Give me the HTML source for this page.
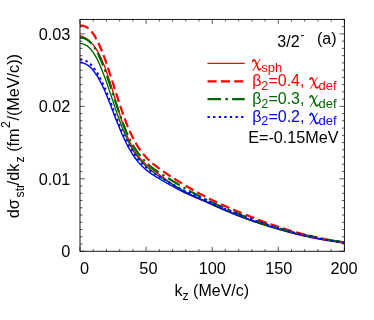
<!DOCTYPE html>
<html><head><meta charset="utf-8"><title>plot</title>
<style>html,body{margin:0;padding:0;background:#fff;width:374px;height:320px;overflow:hidden}</style></head>
<body>
<svg width="374" height="320" viewBox="0 0 374 320" style="position:absolute;left:0;top:0;will-change:transform">
<rect width="374" height="320" fill="#fff"/>
<clipPath id="c"><rect x="80.0" y="19.4" width="264.40" height="231.85"/></clipPath>
<g clip-path="url(#c)" fill="none" stroke-linejoin="round">
<path d="M80.1,35.8 L81.4,36.2 L82.7,36.7 L84.1,37.4 L85.4,38.1 L86.7,38.9 L88.0,39.9 L89.3,41.0 L90.7,42.2 L92.0,43.6 L93.3,45.1 L94.6,46.8 L95.9,48.7 L97.3,50.9 L98.6,53.2 L99.9,55.7 L101.2,58.5 L102.5,61.5 L103.9,64.7 L105.2,68.1 L106.5,71.7 L107.8,75.5 L109.1,79.5 L110.5,83.6 L111.8,87.9 L113.1,92.2 L114.4,96.7 L115.7,101.1 L117.1,105.5 L118.4,109.9 L119.7,114.3 L121.0,118.5 L122.3,122.5 L123.7,126.5 L125.0,130.2 L126.3,133.7 L127.6,137.1 L128.9,140.2 L130.3,143.1 L131.6,145.7 L132.9,148.2 L134.2,150.5 L135.6,152.6 L136.9,154.5 L138.2,156.2 L139.5,157.8 L140.8,159.3 L142.2,160.7 L143.5,162.0 L144.8,163.3 L146.1,164.5 L147.4,165.6 L148.8,166.7 L150.1,167.7 L151.4,168.8 L152.7,169.8 L154.0,170.8 L155.4,171.8 L156.7,172.8 L158.0,173.8 L159.3,174.7 L160.6,175.7 L162.0,176.7 L163.3,177.6 L164.6,178.6 L165.9,179.6 L167.2,180.5 L168.6,181.5 L169.9,182.4 L171.2,183.4 L172.5,184.3 L173.8,185.2 L175.2,186.2 L176.5,187.1 L177.8,188.0 L179.1,188.8 L180.4,189.7 L181.8,190.6 L183.1,191.4 L184.4,192.1 L185.7,192.9 L187.0,193.6 L188.4,194.2 L189.7,194.9 L191.0,195.5 L192.3,196.1 L193.6,196.7 L195.0,197.3 L196.3,197.8 L197.6,198.4 L198.9,198.9 L200.2,199.5 L201.6,200.0 L202.9,200.5 L204.2,201.1 L205.5,201.6 L206.8,202.2 L208.2,202.8 L209.5,203.4 L210.8,204.0 L212.1,204.6 L213.4,205.2 L214.8,205.8 L216.1,206.4 L217.4,207.0 L218.7,207.6 L220.0,208.2 L221.4,208.8 L222.7,209.3 L224.0,209.9 L225.3,210.5 L226.6,211.0 L228.0,211.6 L229.3,212.1 L230.6,212.7 L231.9,213.2 L233.2,213.7 L234.6,214.3 L235.9,214.8 L237.2,215.3 L238.5,215.8 L239.9,216.3 L241.2,216.8 L242.5,217.3 L243.8,217.8 L245.1,218.3 L246.5,218.8 L247.8,219.2 L249.1,219.7 L250.4,220.2 L251.7,220.6 L253.1,221.1 L254.4,221.5 L255.7,222.0 L257.0,222.4 L258.3,222.9 L259.7,223.3 L261.0,223.7 L262.3,224.2 L263.6,224.6 L264.9,225.0 L266.3,225.4 L267.6,225.8 L268.9,226.2 L270.2,226.6 L271.5,227.0 L272.9,227.4 L274.2,227.9 L275.5,228.3 L276.8,228.7 L278.1,229.1 L279.5,229.5 L280.8,229.9 L282.1,230.2 L283.4,230.6 L284.7,231.0 L286.1,231.4 L287.4,231.8 L288.7,232.1 L290.0,232.5 L291.3,232.8 L292.7,233.2 L294.0,233.5 L295.3,233.8 L296.6,234.2 L297.9,234.5 L299.3,234.8 L300.6,235.1 L301.9,235.5 L303.2,235.8 L304.5,236.1 L305.9,236.4 L307.2,236.7 L308.5,237.0 L309.8,237.3 L311.1,237.5 L312.5,237.8 L313.8,238.1 L315.1,238.3 L316.4,238.6 L317.7,238.8 L319.1,239.1 L320.4,239.3 L321.7,239.6 L323.0,239.8 L324.3,240.0 L325.7,240.3 L327.0,240.5 L328.3,240.7 L329.6,240.9 L330.9,241.1 L332.3,241.3 L333.6,241.5 L334.9,241.7 L336.2,241.9 L337.5,242.1 L338.9,242.3 L340.2,242.5 L341.5,242.7 L342.8,242.9 L344.1,243.0" stroke="#ff0000" stroke-width="1.35"/>
<path d="M80.1,43.4 L81.4,43.6 L82.7,43.8 L84.1,44.3 L85.4,44.9 L86.7,45.6 L88.0,46.6 L89.3,47.8 L90.7,49.2 L92.0,50.8 L93.3,52.6 L94.6,54.7 L95.9,56.9 L97.3,59.4 L98.6,62.1 L99.9,65.1 L101.2,68.2 L102.5,71.4 L103.9,74.9 L105.2,78.4 L106.5,82.1 L107.8,85.9 L109.1,89.8 L110.5,93.7 L111.8,97.7 L113.1,101.7 L114.4,105.6 L115.7,109.5 L117.1,113.4 L118.4,117.2 L119.7,120.8 L121.0,124.4 L122.3,127.8 L123.7,131.1 L125.0,134.3 L126.3,137.3 L127.6,140.1 L128.9,142.8 L130.3,145.4 L131.6,147.7 L132.9,150.0 L134.2,152.1 L135.6,154.0 L136.9,155.8 L138.2,157.5 L139.5,159.1 L140.8,160.7 L142.2,162.1 L143.5,163.5 L144.8,164.9 L146.1,166.2 L147.4,167.4 L148.8,168.6 L150.1,169.8 L151.4,170.8 L152.7,171.8 L154.0,172.8 L155.4,173.7 L156.7,174.6 L158.0,175.5 L159.3,176.4 L160.6,177.2 L162.0,178.1 L163.3,178.9 L164.6,179.7 L165.9,180.5 L167.2,181.3 L168.6,182.0 L169.9,182.8 L171.2,183.6 L172.5,184.4 L173.8,185.1 L175.2,185.9 L176.5,186.6 L177.8,187.4 L179.1,188.1 L180.4,188.9 L181.8,189.6 L183.1,190.3 L184.4,191.0 L185.7,191.8 L187.0,192.5 L188.4,193.2 L189.7,193.9 L191.0,194.6 L192.3,195.3 L193.6,195.9 L195.0,196.6 L196.3,197.2 L197.6,197.9 L198.9,198.5 L200.2,199.1 L201.6,199.8 L202.9,200.4 L204.2,201.0 L205.5,201.6 L206.8,202.2 L208.2,202.8 L209.5,203.4 L210.8,204.1 L212.1,204.7 L213.4,205.3 L214.8,205.9 L216.1,206.5 L217.4,207.1 L218.7,207.6 L220.0,208.2 L221.4,208.8 L222.7,209.4 L224.0,209.9 L225.3,210.5 L226.6,211.1 L228.0,211.6 L229.3,212.2 L230.6,212.7 L231.9,213.2 L233.2,213.8 L234.6,214.3 L235.9,214.8 L237.2,215.4 L238.5,215.9 L239.9,216.4 L241.2,216.9 L242.5,217.4 L243.8,217.9 L245.1,218.4 L246.5,218.9 L247.8,219.4 L249.1,219.9 L250.4,220.4 L251.7,220.8 L253.1,221.3 L254.4,221.8 L255.7,222.2 L257.0,222.7 L258.3,223.1 L259.7,223.5 L261.0,224.0 L262.3,224.4 L263.6,224.8 L264.9,225.2 L266.3,225.6 L267.6,226.1 L268.9,226.5 L270.2,226.8 L271.5,227.2 L272.9,227.6 L274.2,228.0 L275.5,228.4 L276.8,228.8 L278.1,229.1 L279.5,229.5 L280.8,229.8 L282.1,230.2 L283.4,230.5 L284.7,230.9 L286.1,231.2 L287.4,231.6 L288.7,231.9 L290.0,232.2 L291.3,232.5 L292.7,232.8 L294.0,233.2 L295.3,233.5 L296.6,233.8 L297.9,234.1 L299.3,234.4 L300.6,234.7 L301.9,234.9 L303.2,235.2 L304.5,235.5 L305.9,235.8 L307.2,236.0 L308.5,236.3 L309.8,236.6 L311.1,236.8 L312.5,237.1 L313.8,237.3 L315.1,237.6 L316.4,237.8 L317.7,238.1 L319.1,238.3 L320.4,238.5 L321.7,238.8 L323.0,239.0 L324.3,239.2 L325.7,239.4 L327.0,239.6 L328.3,239.9 L329.6,240.1 L330.9,240.3 L332.3,240.5 L333.6,240.7 L334.9,240.9 L336.2,241.1 L337.5,241.2 L338.9,241.4 L340.2,241.6 L341.5,241.8 L342.8,242.0 L344.1,242.2" stroke="#006600" stroke-width="1.35"/>
<path d="M80.1,62.3 L81.4,62.5 L82.7,62.8 L84.1,63.3 L85.4,63.8 L86.7,64.5 L88.0,65.3 L89.3,66.4 L90.7,67.5 L92.0,68.9 L93.3,70.5 L94.6,72.3 L95.9,74.1 L97.3,76.2 L98.6,78.4 L99.9,80.8 L101.2,83.3 L102.5,86.0 L103.9,88.8 L105.2,91.8 L106.5,94.9 L107.8,98.2 L109.1,101.5 L110.5,104.9 L111.8,108.4 L113.1,111.8 L114.4,115.3 L115.7,118.7 L117.1,122.0 L118.4,125.3 L119.7,128.6 L121.0,131.7 L122.3,134.7 L123.7,137.7 L125.0,140.5 L126.3,143.2 L127.6,145.8 L128.9,148.2 L130.3,150.5 L131.6,152.7 L132.9,154.8 L134.2,156.7 L135.6,158.5 L136.9,160.2 L138.2,161.9 L139.5,163.4 L140.8,164.8 L142.2,166.2 L143.5,167.5 L144.8,168.7 L146.1,169.9 L147.4,170.9 L148.8,172.0 L150.1,172.9 L151.4,173.8 L152.7,174.7 L154.0,175.5 L155.4,176.4 L156.7,177.2 L158.0,178.0 L159.3,178.7 L160.6,179.5 L162.0,180.3 L163.3,181.0 L164.6,181.8 L165.9,182.5 L167.2,183.3 L168.6,184.0 L169.9,184.8 L171.2,185.5 L172.5,186.2 L173.8,187.0 L175.2,187.7 L176.5,188.4 L177.8,189.1 L179.1,189.8 L180.4,190.5 L181.8,191.2 L183.1,191.9 L184.4,192.5 L185.7,193.1 L187.0,193.7 L188.4,194.2 L189.7,194.8 L191.0,195.3 L192.3,195.9 L193.6,196.4 L195.0,197.0 L196.3,197.5 L197.6,198.1 L198.9,198.6 L200.2,199.1 L201.6,199.6 L202.9,200.1 L204.2,200.7 L205.5,201.2 L206.8,201.8 L208.2,202.4 L209.5,203.0 L210.8,203.6 L212.1,204.3 L213.4,204.9 L214.8,205.5 L216.1,206.1 L217.4,206.7 L218.7,207.2 L220.0,207.8 L221.4,208.4 L222.7,209.0 L224.0,209.5 L225.3,210.1 L226.6,210.7 L228.0,211.2 L229.3,211.8 L230.6,212.3 L231.9,212.8 L233.2,213.4 L234.6,213.9 L235.9,214.4 L237.2,214.9 L238.5,215.5 L239.9,216.0 L241.2,216.5 L242.5,217.0 L243.8,217.4 L245.1,217.9 L246.5,218.4 L247.8,218.9 L249.1,219.4 L250.4,219.8 L251.7,220.3 L253.1,220.7 L254.4,221.2 L255.7,221.6 L257.0,222.1 L258.3,222.5 L259.7,223.0 L261.0,223.4 L262.3,223.8 L263.6,224.2 L264.9,224.6 L266.3,225.0 L267.6,225.5 L268.9,225.9 L270.2,226.3 L271.5,226.7 L272.9,227.1 L274.2,227.5 L275.5,227.9 L276.8,228.3 L278.1,228.7 L279.5,229.1 L280.8,229.5 L282.1,229.9 L283.4,230.3 L284.7,230.7 L286.1,231.0 L287.4,231.4 L288.7,231.8 L290.0,232.1 L291.3,232.5 L292.7,232.8 L294.0,233.2 L295.3,233.5 L296.6,233.8 L297.9,234.2 L299.3,234.5 L300.6,234.8 L301.9,235.1 L303.2,235.4 L304.5,235.7 L305.9,236.0 L307.2,236.3 L308.5,236.6 L309.8,236.9 L311.1,237.2 L312.5,237.5 L313.8,237.7 L315.1,238.0 L316.4,238.2 L317.7,238.5 L319.1,238.7 L320.4,239.0 L321.7,239.2 L323.0,239.5 L324.3,239.7 L325.7,239.9 L327.0,240.1 L328.3,240.3 L329.6,240.6 L330.9,240.8 L332.3,241.0 L333.6,241.2 L334.9,241.4 L336.2,241.6 L337.5,241.8 L338.9,242.0 L340.2,242.1 L341.5,242.3 L342.8,242.5 L344.1,242.7" stroke="#0000ff" stroke-width="1.4"/>
<path d="M80.1,25.4 L81.4,25.5 L82.7,25.7 L84.1,26.0 L85.4,26.5 L86.7,27.2 L88.0,28.1 L89.3,29.2 L90.7,30.6 L92.0,32.1 L93.3,33.9 L94.6,35.9 L95.9,38.2 L97.3,40.6 L98.6,43.3 L99.9,46.2 L101.2,49.3 L102.5,52.6 L103.9,56.1 L105.2,59.7 L106.5,63.5 L107.8,67.4 L109.1,71.4 L110.5,75.5 L111.8,79.6 L113.1,83.7 L114.4,87.9 L115.7,92.1 L117.1,96.2 L118.4,100.3 L119.7,104.3 L121.0,108.2 L122.3,112.1 L123.7,115.8 L125.0,119.4 L126.3,122.8 L127.6,126.1 L128.9,129.3 L130.3,132.3 L131.6,135.1 L132.9,137.8 L134.2,140.3 L135.6,142.7 L136.9,145.0 L138.2,147.1 L139.5,149.1 L140.8,150.9 L142.2,152.7 L143.5,154.3 L144.8,155.8 L146.1,157.3 L147.4,158.7 L148.8,160.0 L150.1,161.2 L151.4,162.4 L152.7,163.6 L154.0,164.6 L155.4,165.7 L156.7,166.7 L158.0,167.7 L159.3,168.7 L160.6,169.6 L162.0,170.5 L163.3,171.4 L164.6,172.3 L165.9,173.2 L167.2,174.1 L168.6,175.0 L169.9,175.9 L171.2,176.7 L172.5,177.6 L173.8,178.4 L175.2,179.3 L176.5,180.1 L177.8,180.9 L179.1,181.7 L180.4,182.5 L181.8,183.3 L183.1,184.1 L184.4,184.9 L185.7,185.7 L187.0,186.5 L188.4,187.3 L189.7,188.0 L191.0,188.8 L192.3,189.5 L193.6,190.3 L195.0,191.0 L196.3,191.7 L197.6,192.4 L198.9,193.2 L200.2,193.9 L201.6,194.6 L202.9,195.3 L204.2,196.0 L205.5,196.7 L206.8,197.3 L208.2,198.0 L209.5,198.7 L210.8,199.4 L212.1,200.0 L213.4,200.7 L214.8,201.3 L216.1,202.0 L217.4,202.6 L218.7,203.2 L220.0,203.8 L221.4,204.4 L222.7,205.0 L224.0,205.6 L225.3,206.1 L226.6,206.7 L228.0,207.3 L229.3,207.9 L230.6,208.4 L231.9,209.0 L233.2,209.6 L234.6,210.1 L235.9,210.7 L237.2,211.2 L238.5,211.8 L239.9,212.3 L241.2,212.9 L242.5,213.4 L243.8,213.9 L245.1,214.5 L246.5,215.0 L247.8,215.5 L249.1,216.0 L250.4,216.6 L251.7,217.1 L253.1,217.6 L254.4,218.1 L255.7,218.7 L257.0,219.2 L258.3,219.7 L259.7,220.2 L261.0,220.7 L262.3,221.2 L263.6,221.7 L264.9,222.1 L266.3,222.6 L267.6,223.1 L268.9,223.5 L270.2,224.0 L271.5,224.5 L272.9,224.9 L274.2,225.4 L275.5,225.8 L276.8,226.3 L278.1,226.7 L279.5,227.1 L280.8,227.6 L282.1,228.0 L283.4,228.4 L284.7,228.8 L286.1,229.2 L287.4,229.7 L288.7,230.1 L290.0,230.5 L291.3,230.9 L292.7,231.2 L294.0,231.6 L295.3,232.0 L296.6,232.4 L297.9,232.7 L299.3,233.1 L300.6,233.5 L301.9,233.8 L303.2,234.1 L304.5,234.5 L305.9,234.8 L307.2,235.1 L308.5,235.5 L309.8,235.8 L311.1,236.1 L312.5,236.4 L313.8,236.7 L315.1,237.0 L316.4,237.3 L317.7,237.6 L319.1,237.9 L320.4,238.2 L321.7,238.4 L323.0,238.7 L324.3,239.0 L325.7,239.3 L327.0,239.5 L328.3,239.8 L329.6,240.0 L330.9,240.3 L332.3,240.5 L333.6,240.8 L334.9,241.0 L336.2,241.2 L337.5,241.5 L338.9,241.7 L340.2,241.9 L341.5,242.1 L342.8,242.3 L344.1,242.6" stroke="#ff0000" stroke-width="2.2" stroke-dasharray="9.1 4.25"/>
<path d="M80.1,37.6 L81.4,37.7 L82.7,37.9 L84.1,38.3 L85.4,38.8 L86.7,39.4 L88.0,40.3 L89.3,41.4 L90.7,42.6 L92.0,44.1 L93.3,45.8 L94.6,47.7 L95.9,49.9 L97.3,52.3 L98.6,54.8 L99.9,57.7 L101.2,60.7 L102.5,63.9 L103.9,67.3 L105.2,70.8 L106.5,74.5 L107.8,78.3 L109.1,82.2 L110.5,86.2 L111.8,90.2 L113.1,94.3 L114.4,98.3 L115.7,102.4 L117.1,106.4 L118.4,110.3 L119.7,114.2 L121.0,117.9 L122.3,121.5 L123.7,125.0 L125.0,128.4 L126.3,131.6 L127.6,134.6 L128.9,137.5 L130.3,140.2 L131.6,142.7 L132.9,145.1 L134.2,147.3 L135.6,149.4 L136.9,151.4 L138.2,153.2 L139.5,154.9 L140.8,156.5 L142.2,158.0 L143.5,159.5 L144.8,160.9 L146.1,162.3 L147.4,163.6 L148.8,164.8 L150.1,166.0 L151.4,167.1 L152.7,168.1 L154.0,169.1 L155.4,170.0 L156.7,170.9 L158.0,171.8 L159.3,172.7 L160.6,173.6 L162.0,174.4 L163.3,175.2 L164.6,176.1 L165.9,176.9 L167.2,177.7 L168.6,178.5 L169.9,179.3 L171.2,180.1 L172.5,180.9 L173.8,181.7 L175.2,182.5 L176.5,183.3 L177.8,184.1 L179.1,184.9 L180.4,185.6 L181.8,186.4 L183.1,187.2 L184.4,187.9 L185.7,188.7 L187.0,189.4 L188.4,190.2 L189.7,190.9 L191.0,191.7 L192.3,192.4 L193.6,193.1 L195.0,193.8 L196.3,194.5 L197.6,195.2 L198.9,195.9 L200.2,196.6 L201.6,197.3 L202.9,197.9 L204.2,198.6 L205.5,199.3 L206.8,199.9 L208.2,200.5 L209.5,201.2 L210.8,201.8 L212.1,202.5 L213.4,203.1 L214.8,203.7 L216.1,204.3 L217.4,204.9 L218.7,205.5 L220.0,206.1 L221.4,206.7 L222.7,207.2 L224.0,207.8 L225.3,208.3 L226.6,208.9 L228.0,209.5 L229.3,210.0 L230.6,210.6 L231.9,211.1 L233.2,211.7 L234.6,212.2 L235.9,212.8 L237.2,213.3 L238.5,213.9 L239.9,214.4 L241.2,215.0 L242.5,215.5 L243.8,216.0 L245.1,216.6 L246.5,217.1 L247.8,217.6 L249.1,218.1 L250.4,218.6 L251.7,219.1 L253.1,219.6 L254.4,220.1 L255.7,220.6 L257.0,221.1 L258.3,221.6 L259.7,222.1 L261.0,222.5 L262.3,223.0 L263.6,223.4 L264.9,223.9 L266.3,224.3 L267.6,224.8 L268.9,225.2 L270.2,225.6 L271.5,226.1 L272.9,226.5 L274.2,226.9 L275.5,227.3 L276.8,227.7 L278.1,228.1 L279.5,228.5 L280.8,228.9 L282.1,229.3 L283.4,229.7 L284.7,230.0 L286.1,230.4 L287.4,230.8 L288.7,231.1 L290.0,231.5 L291.3,231.8 L292.7,232.2 L294.0,232.5 L295.3,232.8 L296.6,233.2 L297.9,233.5 L299.3,233.8 L300.6,234.1 L301.9,234.5 L303.2,234.8 L304.5,235.1 L305.9,235.4 L307.2,235.7 L308.5,235.9 L309.8,236.2 L311.1,236.5 L312.5,236.8 L313.8,237.1 L315.1,237.3 L316.4,237.6 L317.7,237.9 L319.1,238.1 L320.4,238.4 L321.7,238.6 L323.0,238.9 L324.3,239.1 L325.7,239.4 L327.0,239.6 L328.3,239.8 L329.6,240.1 L330.9,240.3 L332.3,240.5 L333.6,240.7 L334.9,241.0 L336.2,241.2 L337.5,241.4 L338.9,241.6 L340.2,241.8 L341.5,242.0 L342.8,242.2 L344.1,242.4" stroke="#006600" stroke-width="2.2" stroke-dasharray="13.6 4.3 2.5 4.2"/>
<path d="M80.1,59.5 L81.4,59.6 L82.7,59.8 L84.1,60.2 L85.4,60.7 L86.7,61.3 L88.0,62.1 L89.3,63.1 L90.7,64.4 L92.0,65.8 L93.3,67.4 L94.6,69.1 L95.9,71.0 L97.3,73.1 L98.6,75.3 L99.9,77.8 L101.2,80.3 L102.5,83.1 L103.9,85.9 L105.2,89.0 L106.5,92.2 L107.8,95.5 L109.1,98.9 L110.5,102.3 L111.8,105.8 L113.1,109.3 L114.4,112.8 L115.7,116.3 L117.1,119.7 L118.4,123.1 L119.7,126.4 L121.0,129.4 L122.3,132.4 L123.7,135.3 L125.0,138.1 L126.3,140.8 L127.6,143.3 L128.9,145.8 L130.3,148.0 L131.6,150.1 L132.9,152.1 L134.2,154.0 L135.6,155.7 L136.9,157.5 L138.2,159.2 L139.5,160.8 L140.8,162.3 L142.2,163.7 L143.5,165.0 L144.8,166.2 L146.1,167.4 L147.4,168.5 L148.8,169.6 L150.1,170.6 L151.4,171.5 L152.7,172.4 L154.0,173.3 L155.4,174.1 L156.7,174.9 L158.0,175.8 L159.3,176.6 L160.6,177.4 L162.0,178.2 L163.3,178.9 L164.6,179.7 L165.9,180.5 L167.2,181.2 L168.6,182.0 L169.9,182.8 L171.2,183.5 L172.5,184.3 L173.8,185.0 L175.2,185.8 L176.5,186.5 L177.8,187.3 L179.1,188.0 L180.4,188.7 L181.8,189.4 L183.1,190.1 L184.4,190.7 L185.7,191.3 L187.0,191.9 L188.4,192.5 L189.7,193.1 L191.0,193.6 L192.3,194.2 L193.6,194.8 L195.0,195.3 L196.3,195.9 L197.6,196.5 L198.9,197.0 L200.2,197.5 L201.6,198.1 L202.9,198.6 L204.2,199.2 L205.5,199.7 L206.8,200.3 L208.2,200.9 L209.5,201.6 L210.8,202.2 L212.1,202.8 L213.4,203.5 L214.8,204.1 L216.1,204.7 L217.4,205.3 L218.7,205.9 L220.0,206.5 L221.4,207.1 L222.7,207.7 L224.0,208.3 L225.3,208.9 L226.6,209.4 L228.0,210.0 L229.3,210.6 L230.6,211.1 L231.9,211.7 L233.2,212.2 L234.6,212.8 L235.9,213.3 L237.2,213.8 L238.5,214.4 L239.9,214.9 L241.2,215.4 L242.5,215.9 L243.8,216.4 L245.1,216.9 L246.5,217.4 L247.8,217.9 L249.1,218.4 L250.4,218.9 L251.7,219.4 L253.1,219.8 L254.4,220.3 L255.7,220.8 L257.0,221.2 L258.3,221.7 L259.7,222.1 L261.0,222.5 L262.3,223.0 L263.6,223.4 L264.9,223.8 L266.3,224.3 L267.6,224.7 L268.9,225.1 L270.2,225.5 L271.5,225.9 L272.9,226.4 L274.2,226.8 L275.5,227.2 L276.8,227.6 L278.1,228.0 L279.5,228.4 L280.8,228.9 L282.1,229.3 L283.4,229.7 L284.7,230.0 L286.1,230.4 L287.4,230.8 L288.7,231.2 L290.0,231.5 L291.3,231.9 L292.7,232.3 L294.0,232.6 L295.3,233.0 L296.6,233.3 L297.9,233.6 L299.3,234.0 L300.6,234.3 L301.9,234.6 L303.2,234.9 L304.5,235.3 L305.9,235.6 L307.2,235.9 L308.5,236.2 L309.8,236.5 L311.1,236.8 L312.5,237.1 L313.8,237.4 L315.1,237.7 L316.4,238.0 L317.7,238.2 L319.1,238.5 L320.4,238.8 L321.7,239.0 L323.0,239.3 L324.3,239.5 L325.7,239.7 L327.0,240.0 L328.3,240.2 L329.6,240.4 L330.9,240.7 L332.3,240.9 L333.6,241.1 L334.9,241.3 L336.2,241.5 L337.5,241.7 L338.9,241.9 L340.2,242.1 L341.5,242.3 L342.8,242.5 L344.1,242.7" stroke="#0000ff" stroke-width="2.1" stroke-dasharray="2.3 3.3"/>
</g>
<g stroke="#000" fill="none">
<rect x="80.0" y="19.4" width="264.40" height="231.85" stroke-width="0.9"/>
<path d="M80.00,251.25 v-4.5 M80.00,19.4 v4.5 M93.22,251.25 v-2.2 M93.22,19.4 v2.2 M106.44,251.25 v-2.2 M106.44,19.4 v2.2 M119.66,251.25 v-2.2 M119.66,19.4 v2.2 M132.88,251.25 v-2.2 M132.88,19.4 v2.2 M146.10,251.25 v-4.5 M146.10,19.4 v4.5 M159.32,251.25 v-2.2 M159.32,19.4 v2.2 M172.54,251.25 v-2.2 M172.54,19.4 v2.2 M185.76,251.25 v-2.2 M185.76,19.4 v2.2 M198.98,251.25 v-2.2 M198.98,19.4 v2.2 M212.20,251.25 v-4.5 M212.20,19.4 v4.5 M225.42,251.25 v-2.2 M225.42,19.4 v2.2 M238.64,251.25 v-2.2 M238.64,19.4 v2.2 M251.86,251.25 v-2.2 M251.86,19.4 v2.2 M265.08,251.25 v-2.2 M265.08,19.4 v2.2 M278.30,251.25 v-4.5 M278.30,19.4 v4.5 M291.52,251.25 v-2.2 M291.52,19.4 v2.2 M304.74,251.25 v-2.2 M304.74,19.4 v2.2 M317.96,251.25 v-2.2 M317.96,19.4 v2.2 M331.18,251.25 v-2.2 M331.18,19.4 v2.2 M344.40,251.25 v-4.5 M344.40,19.4 v4.5 M80.0,251.25 h4.9 M344.4,251.25 h-4.9 M80.0,244.00 h2.5 M344.4,244.00 h-2.5 M80.0,236.76 h2.5 M344.4,236.76 h-2.5 M80.0,229.51 h2.5 M344.4,229.51 h-2.5 M80.0,222.27 h2.5 M344.4,222.27 h-2.5 M80.0,215.03 h2.5 M344.4,215.03 h-2.5 M80.0,207.78 h2.5 M344.4,207.78 h-2.5 M80.0,200.53 h2.5 M344.4,200.53 h-2.5 M80.0,193.29 h2.5 M344.4,193.29 h-2.5 M80.0,186.04 h2.5 M344.4,186.04 h-2.5 M80.0,178.80 h4.9 M344.4,178.80 h-4.9 M80.0,171.56 h2.5 M344.4,171.56 h-2.5 M80.0,164.31 h2.5 M344.4,164.31 h-2.5 M80.0,157.06 h2.5 M344.4,157.06 h-2.5 M80.0,149.82 h2.5 M344.4,149.82 h-2.5 M80.0,142.57 h2.5 M344.4,142.57 h-2.5 M80.0,135.33 h2.5 M344.4,135.33 h-2.5 M80.0,128.08 h2.5 M344.4,128.08 h-2.5 M80.0,120.84 h2.5 M344.4,120.84 h-2.5 M80.0,113.59 h2.5 M344.4,113.59 h-2.5 M80.0,106.35 h4.9 M344.4,106.35 h-4.9 M80.0,99.10 h2.5 M344.4,99.10 h-2.5 M80.0,91.86 h2.5 M344.4,91.86 h-2.5 M80.0,84.62 h2.5 M344.4,84.62 h-2.5 M80.0,77.37 h2.5 M344.4,77.37 h-2.5 M80.0,70.12 h2.5 M344.4,70.12 h-2.5 M80.0,62.88 h2.5 M344.4,62.88 h-2.5 M80.0,55.63 h2.5 M344.4,55.63 h-2.5 M80.0,48.39 h2.5 M344.4,48.39 h-2.5 M80.0,41.14 h2.5 M344.4,41.14 h-2.5 M80.0,33.90 h4.9 M344.4,33.90 h-4.9 M80.0,26.66 h2.5 M344.4,26.66 h-2.5 M80.0,19.41 h2.5 M344.4,19.41 h-2.5" stroke-width="0.65"/>
</g>
<g font-family="'Liberation Sans', sans-serif" font-size="16" fill="#000">
<text x="148.4" y="273.5" text-anchor="middle" font-size="16.3">50</text>
<text x="212.3" y="273.5" text-anchor="middle" font-size="16.3">100</text>
<text x="278.8" y="273.5" text-anchor="middle" font-size="16.3">150</text>
<text x="344.0" y="273.5" text-anchor="middle" font-size="16.3">200</text>
<text x="84.6" y="273.5" text-anchor="middle" font-size="16.3">0</text>
<text x="70.4" y="257.1" text-anchor="end" font-size="16.3">0</text>
<text x="70.4" y="184.6" text-anchor="end" font-size="16.3">0.01</text>
<text x="70.4" y="112.1" text-anchor="end" font-size="16.3">0.02</text>
<text x="70.4" y="39.7" text-anchor="end" font-size="16.3">0.03</text>
<text x="174.5" y="295.6">k<tspan font-size="12.3" dy="4.2">z</tspan><tspan dy="-4.2"> (MeV/c)</tspan></text>
<g transform="translate(18.8,218.2) rotate(-90)" font-size="16.2"><text x="0" y="0">d&#963;</text><text x="20.7" y="4.7" font-size="12.3">str</text><text x="33.0" y="0">/dk</text><text x="55.6" y="4.7" font-size="12.3">z</text><text x="66.4" y="0">(fm</text><text x="90.3" y="-9.2" font-size="12.3">2</text><text x="97.6" y="0">/(MeV/c))</text></g>
<text x="277.3" y="47.2">3/2</text><text x="300.5" y="39.0" font-size="12.3">-</text>
<text x="317" y="44.3">(a)</text>
<text x="248.2" y="142.9" font-size="16.2">E=-0.15MeV</text>
</g>
<g font-family="'Liberation Sans', sans-serif" font-size="16">
<path d="M207.5,63.3 H244.7" stroke="#ff0000" stroke-width="1.35" fill="none"/>
<g fill="#ff0000"><g transform="translate(252.4,59.3)" fill="none" stroke="#ff0000" stroke-linecap="round"><title>&#967;</title><path d="M0.3,2.1 C0.5,0.9 1.2,0.3 1.9,0.45 C2.7,0.65 3.0,1.6 3.5,3.1 L5.6,8.9 C6.0,10.1 6.6,10.7 7.4,10.5 C7.9,10.4 8.2,10.0 8.3,9.6" stroke-width="1.6"/><path d="M7.5,0.2 L0.5,11.3" stroke-width="0.9"/></g><text x="261.2" y="71.6" font-size="13">sph</text></g>
<path d="M207.5,81.3 H244.7" stroke="#ff0000" stroke-width="2.2" fill="none" stroke-dasharray="9.1 4.25"/>
<g fill="#ff0000"><text x="252.2" y="85.8">&#946;</text><text x="261.3" y="89.6" font-size="12.6">2</text><text x="268.4" y="85.8">=0.4,</text><g transform="translate(309.8,77.3)" fill="none" stroke="#ff0000" stroke-linecap="round"><title>&#967;</title><path d="M0.3,2.1 C0.5,0.9 1.2,0.3 1.9,0.45 C2.7,0.65 3.0,1.6 3.5,3.1 L5.6,8.9 C6.0,10.1 6.6,10.7 7.4,10.5 C7.9,10.4 8.2,10.0 8.3,9.6" stroke-width="1.6"/><path d="M7.5,0.2 L0.5,11.3" stroke-width="0.9"/></g><text x="318.6" y="89.6" font-size="13">def</text></g>
<path d="M207.5,99.2 H244.7" stroke="#006600" stroke-width="2.2" fill="none" stroke-dasharray="13.6 4.3 2.5 4.2"/>
<g fill="#006600"><text x="252.2" y="103.8">&#946;</text><text x="261.3" y="107.6" font-size="12.6">2</text><text x="268.4" y="103.8">=0.3,</text><g transform="translate(309.8,95.3)" fill="none" stroke="#006600" stroke-linecap="round"><title>&#967;</title><path d="M0.3,2.1 C0.5,0.9 1.2,0.3 1.9,0.45 C2.7,0.65 3.0,1.6 3.5,3.1 L5.6,8.9 C6.0,10.1 6.6,10.7 7.4,10.5 C7.9,10.4 8.2,10.0 8.3,9.6" stroke-width="1.6"/><path d="M7.5,0.2 L0.5,11.3" stroke-width="0.9"/></g><text x="318.6" y="107.6" font-size="13">def</text></g>
<path d="M207.5,117.0 H244.7" stroke="#0000ff" stroke-width="2.1" fill="none" stroke-dasharray="2.3 3.3"/>
<g fill="#0000ff"><text x="252.2" y="121.5">&#946;</text><text x="261.3" y="125.3" font-size="12.6">2</text><text x="268.4" y="121.5">=0.2,</text><g transform="translate(309.8,113.0)" fill="none" stroke="#0000ff" stroke-linecap="round"><title>&#967;</title><path d="M0.3,2.1 C0.5,0.9 1.2,0.3 1.9,0.45 C2.7,0.65 3.0,1.6 3.5,3.1 L5.6,8.9 C6.0,10.1 6.6,10.7 7.4,10.5 C7.9,10.4 8.2,10.0 8.3,9.6" stroke-width="1.6"/><path d="M7.5,0.2 L0.5,11.3" stroke-width="0.9"/></g><text x="318.6" y="125.3" font-size="13">def</text></g>
</g>
</svg>
</body></html>
